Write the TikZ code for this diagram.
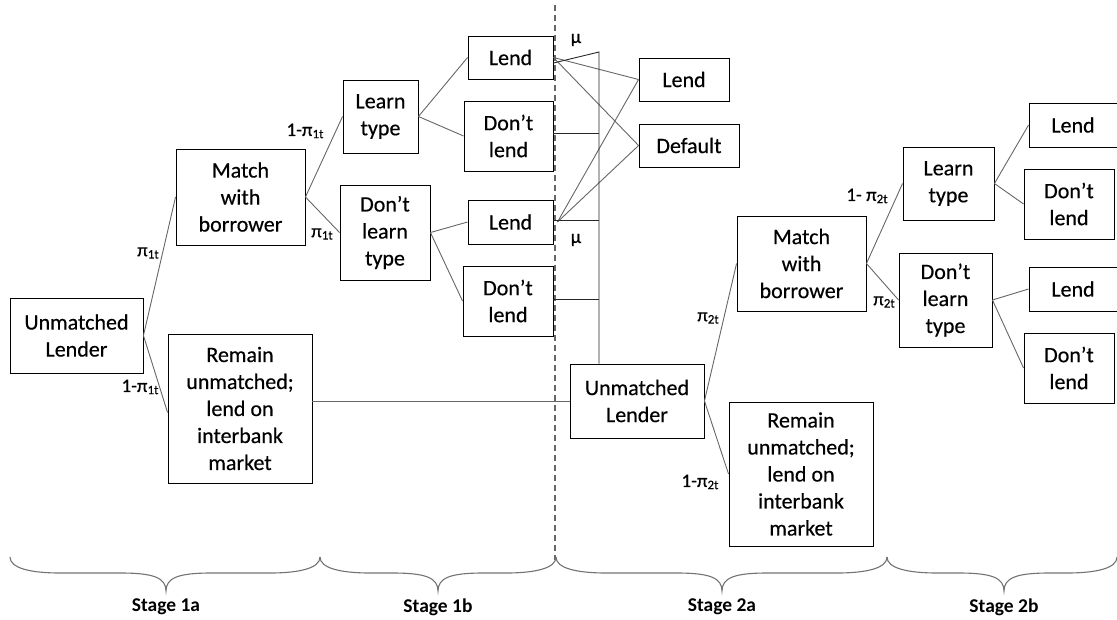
\documentclass[tikz,border=0pt]{standalone}
\usepackage{fontspec}
\setmainfont{Carlito}
\newfontfamily\heavyfont{Carlito}[FakeBold=0.4]
\newcommand\pisub[2]{#1{\fontsize{13}{13}\selectfont\raisebox{-0.35ex}{#2}}}
\newcommand\mybrace[3]{\draw[bracestyle] (#1,557) .. controls (#1,568) and (#1+20,573) .. (#1+50,573) -- (#2-45,573) .. controls (#2-12,573) and (#2,578) .. (#2,591) .. controls (#2,578) and (#2+12,573) .. (#2+45,573) -- (#3-50,573) .. controls (#3-20,573) and (#3,568) .. (#3,557);}
\begin{document}
\begin{tikzpicture}[x=1pt,y=-1pt,
  box/.style={draw=black, line width=0.9pt, align=center, inner sep=0pt, font=\heavyfont\fontsize{22}{27}\selectfont},
  conn/.style={draw=black!60, line width=0.9pt},
  vconn/.style={draw=black!85, line width=0.9pt},
  lbl/.style={font=\heavyfont\fontsize{19}{19}\selectfont, inner sep=0pt},
  bracestyle/.style={draw=black!55, line width=1.1pt},
  stagelbl/.style={font=\bfseries\fontsize{19.5}{19.5}\selectfont, inner sep=0pt}]
\useasboundingbox (0,0) rectangle (1117,619);
% Stage 1a
\node[box, minimum width=133, minimum height=75] (ul1) at (76.5,335.5) {Unmatched\\Lender};
\node[box, minimum width=129, minimum height=96] (mwb1) at (240.5,197) {Match\\with\\borrower};
\node[box, minimum width=144, minimum height=149] (rem1) at (240,408.5) {Remain\\unmatched;\\lend on\\interbank\\market};
% Stage 1b
\node[box, minimum width=75, minimum height=73] (lt1) at (380.5,116.5) {Learn\\type};
\node[box, minimum width=90, minimum height=95] (dlt1) at (385,232.5) {Don’t\\learn\\type};
\node[box, minimum width=85, minimum height=43] (lendA) at (510.5,57.5) {Lend};
\node[box, minimum width=89, minimum height=70] (dlA) at (508.5,136) {Don’t\\lend};
\node[box, minimum width=85, minimum height=44] (lendB) at (510.5,222) {Lend};
\node[box, minimum width=90, minimum height=70] (dlB) at (508,301) {Don’t\\lend};
% Stage 2a
\node[box, minimum width=90, minimum height=43] (lend2) at (684,79.5) {Lend};
\node[box, minimum width=100, minimum height=43] (def) at (689,145.5) {Default};
\node[box, minimum width=134, minimum height=74] (ul2) at (637,401) {Unmatched\\Lender};
\node[box, minimum width=129, minimum height=95] (mwb2) at (801.5,263.5) {Match\\with\\borrower};
\node[box, minimum width=144, minimum height=144] (rem2) at (801,474) {Remain\\unmatched;\\lend on\\interbank\\market};
% Stage 2b
\node[box, minimum width=91, minimum height=73] (lt2) at (948.5,183.5) {Learn\\type};
\node[box, minimum width=93, minimum height=94] (dlt2) at (945.5,300) {Don’t\\learn\\type};
\node[box, minimum width=88, minimum height=44] (lendC) at (1073,125) {Lend};
\node[box, minimum width=90, minimum height=70] (dlC) at (1069,204) {Don’t\\lend};
\node[box, minimum width=88, minimum height=44] (lendD) at (1073,289) {Lend};
\node[box, minimum width=90, minimum height=70] (dlD) at (1069,368) {Don’t\\lend};
% dashed divider
\coordinate (dtop) at (555,5);
\coordinate (dbot) at (555,560);
\draw[black!60, line width=1.4pt, dash pattern=on 6pt off 4pt] (dtop) -- (dbot);
% tree connectors
\draw[conn] (ul1.east) -- (mwb1.west);
\draw[conn] (ul1.east) -- ([yshift=-4]rem1.west);
\draw[conn] (mwb1.east) -- (lt1.west);
\draw[conn] (mwb1.east) -- (dlt1.west);
\draw[conn] (lt1.east) -- (lendA.west);
\draw[conn] (lt1.east) -- (dlA.west);
\draw[conn] (dlt1.east) -- (lendB.west);
\draw[conn] (dlt1.east) -- (dlB.west);
\draw[conn] (lendA.east) -- (lend2.west);
\draw[conn] (lendA.east) -- (def.west);
\draw[conn] ([xshift=4]lendB.east) -- (lend2.west);
\draw[conn] ([xshift=4]lendB.east) -- (def.west);
\draw[conn] (rem1.east |- ul2.west) -- (ul2.west);
\draw[conn] (ul2.east) -- (mwb2.west);
\draw[conn] (ul2.east) -- (rem2.west);
\draw[conn] (mwb2.east) -- (lt2.west);
\draw[conn] (mwb2.east) -- (dlt2.west);
\draw[conn] (lt2.east) -- (lendC.west);
\draw[conn] (lt2.east) -- (dlC.west);
\draw[conn] (dlt2.east) -- (lendD.west);
\draw[conn] (dlt2.east) -- (dlD.west);
% vertical collector line
\coordinate (vtop) at (599,52);
\draw[vconn] ([yshift=-5.5]lendA.east) -- (vtop) -- (vtop |- ul2.north);
\draw[vconn] ([yshift=3]dlA.east) -- +(46,0);
\draw[vconn] ([yshift=2]lendB.east) -- +(46,0);
\draw[vconn] ([yshift=2]dlB.east) -- +(46,0);
% probability labels
\node[lbl] (p1) at (148,253) {\pisub{π}{1t}};
\node[lbl] (p2) at (140,387) {\pisub{1-π}{1t}};
\node[lbl] (p3) at (305,131) {\pisub{1-π}{1t}};
\node[lbl] (p4) at (322,234) {\pisub{π}{1t}};
\node[lbl] (mu1) at (576,40) {μ};
\node[lbl] (mu2) at (576,240) {μ};
\node[lbl] (p5) at (708,318) {\pisub{π}{2t}};
\node[lbl] (p6) at (700,482) {\pisub{1-π}{2t}};
\node[lbl] (p7) at (867,196) {\pisub{1- π}{2t}};
\node[lbl] (p8) at (884,302) {\pisub{π}{2t}};
% braces
\mybrace{10}{166}{320}
\mybrace{320}{438}{556}
\mybrace{556}{722}{887}
\mybrace{887}{1004}{1117}
\node[stagelbl] (s1) at (166,607) {Stage 1a};
\node[stagelbl] (s2) at (438,607) {Stage 1b};
\node[stagelbl] (s3) at (722,607) {Stage 2a};
\node[stagelbl] (s4) at (1004,607) {Stage 2b};
\end{tikzpicture}
\end{document}
